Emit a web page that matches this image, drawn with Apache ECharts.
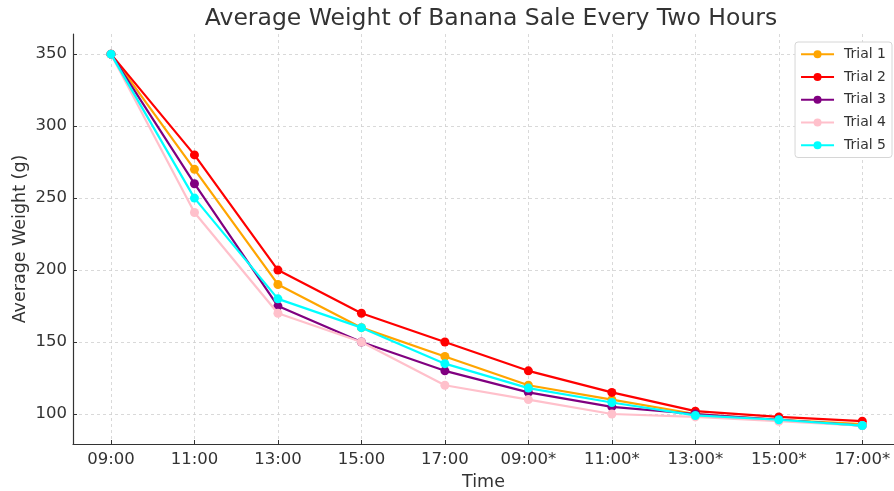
<!DOCTYPE html>
<html><head><meta charset="utf-8">
<script src="https://cdn.jsdelivr.net/npm/echarts@6/dist/echarts.min.js"></script>
<style>html,body{margin:0;padding:0;background:#fff}#c{width:894px;height:491px}</style>
</head><body><div id="c"></div>
<script>
const categories = ["09:00","11:00","13:00","15:00","17:00","09:00*","11:00*","13:00*","15:00*","17:00*"];
const trial1 = [350,270,190,160,140,120,110,100,96,93];
const trial2 = [350,280,200,170,150,130,115,102,98,95];
const trial3 = [350,260,175,150,130,115,105,100,96,92];
const trial4 = [350,240,170,150,120,110,100,98,95,92];
const trial5 = [350,250,180,160,135,118,108,99,96,92];
const yTicks = [100,150,200,250,300,350];
const seriesNames = ["Trial 1","Trial 2","Trial 3","Trial 4","Trial 5"];
const seriesColors = ["#FFA500","#FF0000","#800080","#FFC0CB","#00FFFF"];
const allData = [trial1,trial2,trial3,trial4,trial5];

const font = "DejaVu Sans";
const xIdx = categories.map((_, i) => i);
const chart = echarts.init(document.getElementById('c'));
chart.setOption({
  backgroundColor:'#fff',
  animation:false,
  textStyle:{fontFamily:font},
  title:{text:"Average Weight of Banana Sale Every Two Hours",left:486,textAlign:'center',top:2,
    textStyle:{fontFamily:font,fontSize:23.5,fontWeight:'normal',color:'#333'}},
  grid:{left:73,right:0,top:34,bottom:47,containLabel:false,outerBoundsMode:'none'},
  legend:{orient:'vertical',right:2,top:42,padding:[5,6,5,5],itemGap:8.5,itemWidth:33,itemHeight:10,
    backgroundColor:'#fff',borderColor:'#d6d6d6',borderWidth:1,borderRadius:3,
    textStyle:{fontFamily:font,fontSize:14,color:'#333',lineHeight:14.3,padding:[0,0,0,5]},
    data:seriesNames},
  xAxis:{type:'value',min:-0.455,max:9.38,name:'Time',nameLocation:'middle',nameGap:29,nameMoveOverlap:false,
    nameTextStyle:{fontFamily:font,fontSize:17.5,color:'#333'},
    axisLine:{show:true,onZero:false,lineStyle:{color:'#333',width:1.2}},
    axisTick:{show:true,inside:true,customValues:xIdx,length:4,lineStyle:{color:'#333'}},
    axisLabel:{customValues:xIdx,formatter:v=>categories[Math.round(v)],fontFamily:font,fontSize:16.5,color:'#333',margin:7},
    splitLine:{show:true,lineStyle:{color:'#d0d0d0',type:[3,3],width:0.8}}},
  yAxis:{type:'value',min:79.17,max:364,name:'Average Weight (g)',nameLocation:'middle',nameGap:44,nameMoveOverlap:false,
    nameTextStyle:{fontFamily:font,fontSize:17.5,color:'#333'},
    axisLine:{show:true,onZero:false,lineStyle:{color:'#333',width:1.2}},
    axisTick:{show:true,inside:true,customValues:yTicks,length:4,lineStyle:{color:'#333'}},
    axisLabel:{customValues:yTicks,fontFamily:font,fontSize:16.5,color:'#333',margin:6},
    splitLine:{show:true,lineStyle:{color:'#d0d0d0',type:[3,3],width:0.8}}},
  series: allData.map((d,k)=>({
    name:seriesNames[k],type:'line',
    data:d.map((v,i)=>[xIdx[i],v]),
    symbol:'circle',symbolSize:9,
    itemStyle:{color:seriesColors[k]},
    lineStyle:{color:seriesColors[k],width:2.2},
    z:2+k
  }))
});
</script></body></html>
